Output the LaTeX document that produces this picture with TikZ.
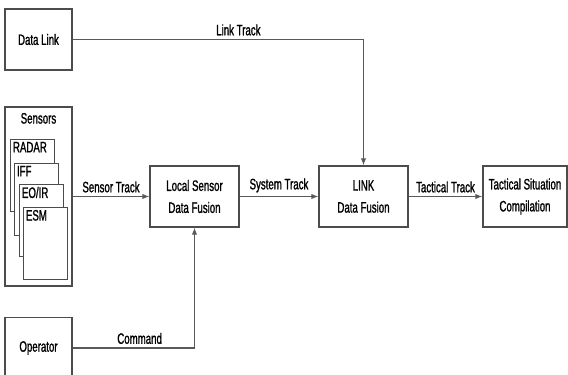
\documentclass[tikz,border=0pt]{standalone}
\usepackage{fontspec}
\setmainfont[FakeStretch=0.64, FakeBold=1.2]{Liberation Sans}
\usetikzlibrary{positioning, arrows.meta, calc}

\tikzset{
  blk/.style={draw=black!70, line width=0.6pt, fill=white, align=center,
    minimum width=1.34cm, minimum height=1.22cm, inner sep=1pt, font=\fontsize{8.6}{12.5}\selectfont},
  fus/.style={blk, minimum width=1.78cm},
  sub/.style={draw=black!70, line width=0.5pt, fill=white, minimum width=0.88cm, minimum height=1.44cm, inner sep=0pt},
  lbl/.style={font=\fontsize{8.6}{10}\selectfont, inner sep=2pt},
  flow/.style={draw=black!65, line width=0.6pt, -{Latex[length=4pt,width=3pt]}}
}

\begin{document}
\begin{tikzpicture}[x=0.02cm, y=-0.02cm]
            \clip (0,0) rectangle (568,375);
            % sources on the left
            \node[blk] (dlink) at (38.5,39.5){Data Link};
            \node[blk, minimum height=3.58cm] (sens) at (38.5,196.5){};
            \node[lbl, anchor=north] (senslbl) at ([yshift=-1.5pt]sens.north){Sensors};
            \node[blk] (op) at (38.5,348){Operator};
            % stacked sensor cards
            \foreach \n/\t/\x/\y in {radar/RADAR/10/139, iff/IFF/14/163, eoir/EO\slash IR/19/184, esm/ESM/23/207}{
                \node[sub, anchor=north west] (\n) at (\x,\y){};
                \node[lbl, anchor=north west, inner sep=1.5pt] at (\n.north west){\t};
            }
            % fusion chain
            \node[fus] (lsdf) at (194.5,196.5){Local Sensor\\Data Fusion};
            \node[fus] (ldf) at (363.5,196.5){LINK\\Data Fusion};
            \node[blk, minimum width=1.68cm] (tsc) at (525,196.5){Tactical Situation\\Compilation};
            % connectors
            \draw[flow] (sens.east)--node[lbl,above]{Sensor Track}(lsdf.west);
            \draw[flow] (lsdf.east)--node[lbl,above]{System Track}(ldf.west);
            \draw[flow] (ldf.east)--node[lbl,above]{Tactical Track}(tsc.west);
            \draw[flow] (dlink.east)-|node[lbl,above,pos=0.285]{Link Track}(ldf.north);
            \draw[flow] (op.east)-|node[lbl,above,pos=0.275]{Command}(lsdf.south);
        \end{tikzpicture}
\end{document}
